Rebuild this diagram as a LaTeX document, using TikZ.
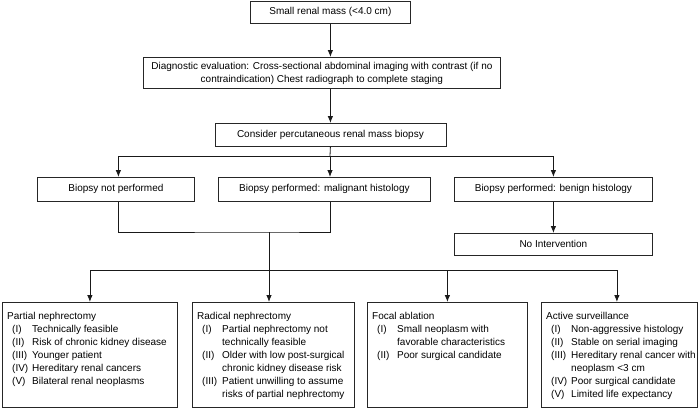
\documentclass[tikz,border=0pt]{standalone}
\usepackage{fontspec}
\setmainfont{Liberation Sans}
\usetikzlibrary{arrows.meta}
\newcommand{\itm}[2]{\hspace*{5bp}\makebox[20bp][l]{#1}#2}
\newcommand{\cnt}[1]{\hspace*{25bp}#1}
\begin{document}
\begin{tikzpicture}[x=1bp,y=-1bp,
  font=\fontsize{10bp}{13bp}\selectfont,
  box/.style={draw=black!85, line width=0.8bp, fill=white, inner sep=0pt, anchor=north west},
  arr/.style={-{Latex[length=7bp,width=5.5bp]}, line width=0.8bp, draw=black!90},
  ln/.style={line width=0.8bp, draw=black!90},
  lst/.style={anchor=north west, inner sep=0pt, align=left}]
\useasboundingbox (0,0) rectangle (699,409);

% top flow
\node[box, minimum width=160bp, minimum height=22bp] (t) at (250,1) {Small renal mass (<4.0 cm)};
\node[box, minimum width=357bp, minimum height=31bp] (d) at (143,57)
  {\begin{tabular}{@{}c@{}}Diagnostic evaluation: Cross-sectional abdominal imaging with contrast (if no\\contraindication) Chest radiograph to complete staging\end{tabular}};
\node[box, minimum width=231bp, minimum height=23bp] (c) at (214.5,123) {Consider percutaneous renal mass biopsy};

% biopsy outcomes
\node[box, minimum width=157bp, minimum height=24bp] (bnp) at (37,177) {Biopsy not performed};
\node[box, minimum width=212bp, minimum height=24bp] (bm) at (218,177) {Biopsy performed: malignant histology};
\node[box, minimum width=198bp, minimum height=24bp] (bb) at (454,177) {Biopsy performed: benign histology};
\node[box, minimum width=198bp, minimum height=22bp] (ni) at (454,233) {No Intervention};

% treatment boxes
\node[box, minimum width=175bp, minimum height=105bp] (pn) at (2,302) {};
\node[box, minimum width=162bp, minimum height=105bp] (rn) at (192,302) {};
\node[box, minimum width=160bp, minimum height=105bp] (fa) at (367,302) {};
\node[box, minimum width=156bp, minimum height=105bp] (sv) at (541,302) {};

\node[lst] (pnt) at ([xshift=5bp,yshift=-10bp]pn.north west) {Partial nephrectomy\\
\itm{(I)}{Technically feasible}\\
\itm{(II)}{Risk of chronic kidney disease}\\
\itm{(III)}{Younger patient}\\
\itm{(IV)}{Hereditary renal cancers}\\
\itm{(V)}{Bilateral renal neoplasms}};

\node[lst] (rnt) at ([xshift=5bp,yshift=-10bp]rn.north west) {Radical nephrectomy\\
\itm{(I)}{Partial nephrectomy not}\\
\cnt{technically feasible}\\
\itm{(II)}{Older with low post-surgical}\\
\cnt{chronic kidney disease risk}\\
\itm{(III)}{Patient unwilling to assume}\\
\cnt{risks of partial nephrectomy}};

\node[lst] (fat) at ([xshift=5bp,yshift=-10bp]fa.north west) {Focal ablation\\
\itm{(I)}{Small neoplasm with}\\
\cnt{favorable characteristics}\\
\itm{(II)}{Poor surgical candidate}};

\node[lst] (svt) at ([xshift=5bp,yshift=-10bp]sv.north west) {Active surveillance\\
\itm{(I)}{Non-aggressive histology}\\
\itm{(II)}{Stable on serial imaging}\\
\itm{(III)}{Hereditary renal cancer with}\\
\cnt{neoplasm <3 cm}\\
\itm{(IV)}{Poor surgical candidate}\\
\itm{(V)}{Limited life expectancy}};

% junction points
\coordinate (sp) at (330,156);
\coordinate (mg) at (269,232);
\coordinate (bl) at (269,270);

% connectors
\draw[arr] (t.south) -- (t.south |- d.north);
\draw[arr] (c.north |- d.south) -- (c.north);
\draw[ln] (c.south) -- (sp);
\draw[arr] (sp) -| ([xshift=2.5bp]bnp.north);
\draw[arr] (sp) -- (sp |- bm.north);
\draw[arr] (sp) -| (bb.north);
\draw[arr] (bb.south) -- (ni.north);
\draw[ln] ([xshift=2.5bp]bnp.south) |- (mg) -| ([xshift=6bp]bm.south);
\draw[ln] (mg) -- (bl);
\draw[arr] (bl) -| (pn.north);
\draw[arr] (bl) -- (bl |- rn.north);
\draw[arr] (bl) -| (fa.north);
\draw[arr] (bl) -| ([xshift=-2.5bp]sv.north);
\end{tikzpicture}
\end{document}
